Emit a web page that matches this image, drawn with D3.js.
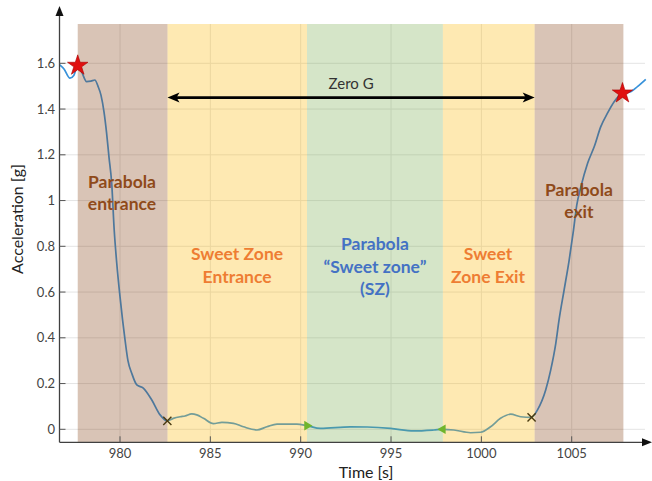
<!DOCTYPE html>
<html><head><meta charset="utf-8">
<script src="https://cdn.jsdelivr.net/npm/d3@7"></script>
<style>body{margin:0;background:#fff}svg{display:block}</style>
</head><body>
<svg id="c" width="652" height="481"></svg>
<script>
const times = [976.67,976.90,977.23,977.45,977.66,977.89,978.15,978.39,978.61,978.78,978.95,979.11,979.26,979.39,979.54,979.68,979.82,980.00,980.28,980.44,980.65,980.93,981.29,981.76,982.22,982.62,982.95,983.33,983.60,983.97,984.25,984.62,985.17,985.64,986.28,986.83,987.58,988.13,988.69,989.79,990.35,991.09,992.75,993.68,994.97,996.26,997.37,997.87,998.48,999.40,999.96,1000.51,1001.06,1001.62,1002.17,1002.78,1003.10,1003.56,1003.84,1004.12,1004.30,1004.58,1004.86,1005.10,1005.28,1005.51,1005.88,1006.25,1006.61,1006.98,1007.35,1007.81,1008.27,1008.64,1009.10];
const accel = [1.593,1.575,1.535,1.548,1.590,1.560,1.520,1.522,1.527,1.500,1.460,1.390,1.294,1.190,1.076,0.870,0.726,0.580,0.390,0.300,0.245,0.194,0.180,0.128,0.063,0.037,0.048,0.055,0.058,0.067,0.063,0.048,0.025,0.030,0.026,0.011,-0.003,0.011,0.023,0.023,0.016,0.004,0.011,0.010,0.004,-0.007,-0.003,0.000,-0.003,-0.015,-0.013,0.011,0.048,0.066,0.055,0.052,0.084,0.172,0.260,0.376,0.478,0.609,0.740,0.871,0.980,1.060,1.163,1.236,1.323,1.382,1.432,1.469,1.476,1.498,1.530];

const phaseStart = [977.66, 982.63, 990.35, 997.87, 1002.95];
const phaseEnd   = [982.63, 990.35, 997.87, 1002.95, 1007.86];
const phaseKind  = ["brown","yellow","green","yellow","brown"];

const xTicks = [980,985,990,995,1000,1005];
const yTicks = [0,0.2,0.4,0.6,0.8,1,1.2,1.4,1.6];

const starT = [977.66, 1007.81], starA = [1.590, 1.469];
const crossT = [982.62, 1002.78], crossA = [0.037, 0.052];
const triT = [990.35, 997.87], triA = [0.016, 0.000], triDir = [1, -1];

const zeroG = {from: 982.63, to: 1002.95, level: 1.45, label: "Zero G"};

const labels = [
  {lines:["Parabola","entrance"], t: 980.11, a: 1.033, kind:"brown"},
  {lines:["Sweet Zone","Entrance"], t: 986.48, a: 0.717, kind:"orange"},
  {lines:["Parabola","“Sweet zone”","(SZ)"], t: 994.11, a: 0.711, kind:"blue"},
  {lines:["Sweet","Zone Exit"], t: 1000.37, a: 0.717, kind:"orange"},
  {lines:["Parabola","exit"], t: 1005.40, a: 0.997, kind:"brown"}
];

const fills = {brown:"rgb(128,58,12)", yellow:"rgb(252,182,0)", green:"rgb(115,168,72)"};
const textCol = {brown:"#8f4a1a", orange:"#ee7d33", blue:"#4472c4"};

const svg = d3.select("#c");
const x = d3.scaleLinear().domain([980,1005]).range([120,571.7]);
const y = d3.scaleLinear().domain([0,1.6]).range([429.3,63.3]);
const axX0 = 59.5, axY0 = 442.3, plotTop = 24, plotRight = 645;

// grid
const g = svg.append("g");
g.selectAll(".gy").data(yTicks).join("line")
  .attr("x1",axX0).attr("x2",plotRight).attr("y1",d=>y(d)).attr("y2",d=>y(d))
  .attr("stroke","#e4e4e4").attr("stroke-width",1);
g.selectAll(".gx").data(xTicks).join("line")
  .attr("x1",d=>x(d)).attr("x2",d=>x(d)).attr("y1",plotTop).attr("y2",axY0)
  .attr("stroke","#e4e4e4").attr("stroke-width",1);

// curve
const pts = times.map((t,i)=>[t,accel[i]]);
svg.append("path").datum(pts)
  .attr("d", d3.line().x(d=>x(d[0])).y(d=>y(d[1])).curve(d3.curveMonotoneX))
  .attr("fill","none").attr("stroke","rgb(56,146,218)").attr("stroke-width",1.7);

// phases
svg.selectAll(".ph").data(phaseStart).join("rect")
  .attr("x",(d)=>x(d)).attr("width",(d,i)=>x(phaseEnd[i])-x(d))
  .attr("y",plotTop).attr("height",axY0-plotTop)
  .attr("fill",(d,i)=>fills[phaseKind[i]]).attr("fill-opacity",0.3);

// axes
const ax = svg.append("g").attr("stroke","#404040").attr("stroke-width",1.3);
ax.append("line").attr("x1",axX0).attr("x2",axX0).attr("y1",axY0).attr("y2",14);
ax.append("line").attr("x1",axX0).attr("x2",646).attr("y1",axY0).attr("y2",axY0);
svg.append("path").attr("d",`M${axX0-4},${16} L${axX0},${6} L${axX0+4},${16} Z`).attr("fill","#111");
svg.append("path").attr("d",`M${642},${axY0-4} L${652},${axY0} L${642},${axY0+4} Z`).attr("fill","#111");

svg.selectAll(".tx").data(xTicks).join("line")
  .attr("x1",d=>x(d)).attr("x2",d=>x(d)).attr("y1",axY0).attr("y2",axY0-6)
  .attr("stroke","#555").attr("stroke-width",1);
svg.selectAll(".ty").data(yTicks).join("line")
  .attr("x1",axX0).attr("x2",axX0+6).attr("y1",d=>y(d)).attr("y2",d=>y(d))
  .attr("stroke","#555").attr("stroke-width",1);

const font = "Lato, 'Open Sans', sans-serif";
svg.selectAll(".xl").data(xTicks).join("text")
  .attr("x",d=>x(d)).attr("y",457.5).attr("text-anchor","middle")
  .attr("font-family",font).attr("font-size",13).attr("fill","#444").text(d=>d);
svg.selectAll(".yl").data(yTicks).join("text")
  .attr("x",55).attr("y",d=>y(d)+4.5).attr("text-anchor","end")
  .attr("font-family",font).attr("font-size",13).attr("fill","#444").text(d=>d);

svg.append("text").attr("x",366).attr("y",477.5).attr("text-anchor","middle")
  .attr("font-family",font).attr("font-size",16).attr("fill","#222").text("Time [s]");
svg.append("text").attr("transform","translate(23,219) rotate(-90)").attr("text-anchor","middle")
  .attr("font-family",font).attr("font-size",16).attr("fill","#222").text("Acceleration [g]");

// zero G arrow
const ay = y(zeroG.level);
const x1 = x(zeroG.from), x2 = x(zeroG.to);
svg.append("line").attr("x1",x1+6).attr("x2",x2-6).attr("y1",ay).attr("y2",ay)
  .attr("stroke","#000").attr("stroke-width",2.6);
svg.append("path").attr("d",`M${x1},${ay} L${x1+12},${ay-5} L${x1+9},${ay} L${x1+12},${ay+5} Z`).attr("fill","#000");
svg.append("path").attr("d",`M${x2},${ay} L${x2-12},${ay-5} L${x2-9},${ay} L${x2-12},${ay+5} Z`).attr("fill","#000");
svg.append("text").attr("x",(x1+x2)/2).attr("y",ay-9).attr("text-anchor","middle")
  .attr("font-family",font).attr("font-size",15).attr("fill","#333").text(zeroG.label);

// markers
const star = d3.symbol().type(d3.symbolStar).size(130);
svg.selectAll(".st").data(starT).join("path")
  .attr("transform",(d,i)=>`translate(${x(d)},${y(starA[i])})`)
  .attr("d",star).attr("fill","#e01010").attr("stroke","#a00").attr("stroke-width",0.6);
const cross = d3.symbol().type(d3.symbolX).size(45);
svg.selectAll(".cr").data(crossT).join("path")
  .attr("transform",(d,i)=>`translate(${x(d)},${y(crossA[i])})`)
  .attr("d",cross).attr("fill","none").attr("stroke","#4a3a10").attr("stroke-width",1.4);
svg.selectAll(".tr").data(triT).join("path")
  .attr("transform",(d,i)=>`translate(${x(d)},${y(triA[i])}) rotate(${triDir[i]>0?90:-90})`)
  .attr("d",d3.symbol().type(d3.symbolTriangle).size(40)).attr("fill","#6fb52c");

// labels
labels.forEach(L=>{
  const cx = x(L.t), cy = y(L.a);
  const lh = 22.5;
  const n = L.lines.length;
  const t = svg.append("text").attr("text-anchor","middle")
    .attr("font-family",font).attr("font-weight","bold").attr("font-size",17.5)
    .attr("fill",textCol[L.kind]);
  L.lines.forEach((s,k)=>{
    t.append("tspan").attr("x",cx).attr("y",cy+(k-(n-1)/2)*lh+6).text(s);
  });
});
</script>
</body></html>
